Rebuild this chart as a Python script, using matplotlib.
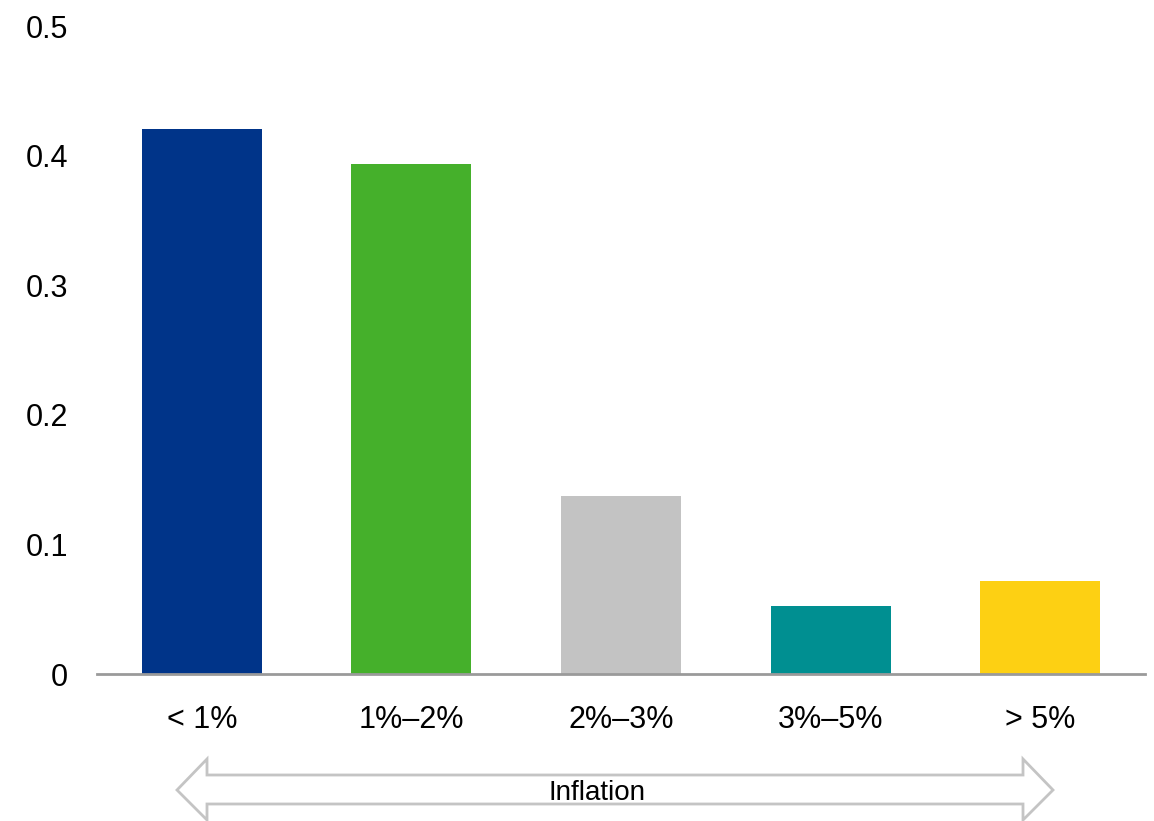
import matplotlib
matplotlib.use("Agg")
import matplotlib.pyplot as plt
from matplotlib.patches import Polygon

plt.rcParams["font.family"] = ["Liberation Sans", "DejaVu Sans"]

categories = ["< 1%", "1%\u20132%", "2%\u20133%", "3%\u20135%", "> 5%"]
values = [0.4205, 0.3935, 0.137, 0.0525, 0.0718]
colors = ["#003489", "#45B02B", "#C3C3C3", "#008F91", "#FDD013"]
y_ticks = [0, 0.1, 0.2, 0.3, 0.4, 0.5]
y_tick_labels = ["0", "0.1", "0.2", "0.3", "0.4", "0.5"]

W, H = 1154, 821
fig = plt.figure(figsize=(W / 100, H / 100), dpi=100)


def fx(px):
    return px / W


def fy(py):
    return (H - py) / H


ax = fig.add_axes([fx(97), fy(674), fx(1145) - fx(97), fy(26) - fy(674)])
x = range(len(categories))
ax.bar(x, values, width=0.573, color=colors, zorder=2)

ax.set_xlim(-0.5, len(categories) - 0.5)
ax.set_ylim(0, 0.5)
ax.set_yticks(y_ticks)
ax.set_yticklabels(y_tick_labels)
ax.set_xticks(list(x))
ax.set_xticklabels(categories)
ax.tick_params(axis="both", length=0, labelsize=22, colors="black")
ax.tick_params(axis="y", pad=21)
ax.tick_params(axis="x", pad=22)

for side in ("top", "right", "left"):
    ax.spines[side].set_visible(False)
ax.spines["bottom"].set_color("#9A9A9A")
ax.spines["bottom"].set_linewidth(2)
ax.spines["bottom"].set_zorder(3)

# Double-headed outline arrow under the categories
arrow_px = [
    (177, 790), (207, 759), (207, 775), (1023, 775), (1023, 759),
    (1053, 790), (1023, 820), (1023, 804), (207, 804), (207, 820),
]
arrow = Polygon([(fx(a), fy(b)) for a, b in arrow_px], closed=True,
                transform=fig.transFigure, facecolor="white",
                edgecolor="#C4C4C4", linewidth=2)
fig.patches.append(arrow)
fig.text(fx(597), fy(793), "Inflation", ha="center", va="center",
         fontsize=20, color="black")

fig.savefig("out.png", dpi=100)
